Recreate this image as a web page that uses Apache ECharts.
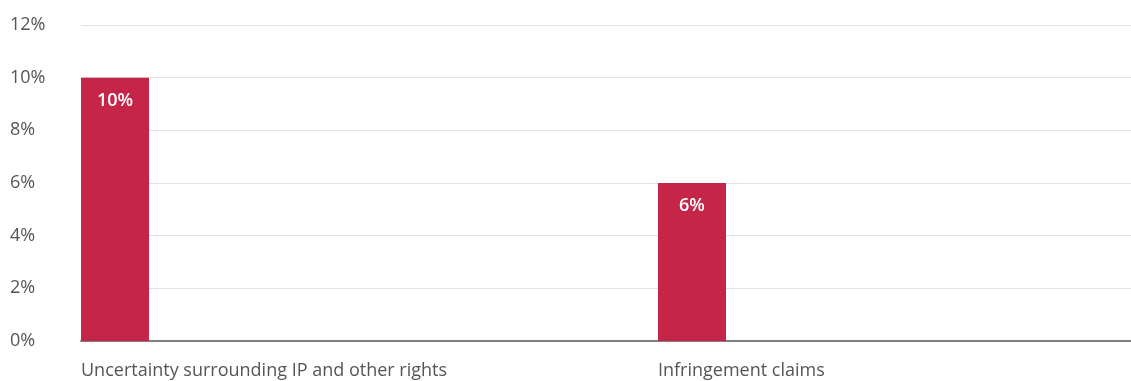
<!DOCTYPE html>
<html>
<head>
<meta charset="utf-8">
<style>
  html, body { margin: 0; padding: 0; background: #ffffff; }
  #chart { width: 1131px; height: 381px; }
</style>
<script src="https://cdn.jsdelivr.net/npm/echarts@6/dist/echarts.min.js"></script>
</head>
<body>
<div id="chart"></div>
<script>
// Share of respondents citing each IP-related concern
const categories = ['Uncertainty surrounding IP and other rights', 'Infringement claims'];
const values = [10, 6];
const yTicks = [0, 2, 4, 6, 8, 10, 12];

const BAR_COLOR = '#c42548';
const BAR_WIDTH = 68;
const SLOT_WIDTH = 577;   // horizontal pitch between category slots, px
const FONT = '"Open Sans", "Noto Sans", sans-serif';

const GRID_LEFT = 81;
const GRID_RIGHT = 0;
const CHART_W = 1131;
// visible span of the slot axis, in slot units
const xSpan = (CHART_W - GRID_LEFT - GRID_RIGHT) / SLOT_WIDTH;

const chart = echarts.init(document.getElementById('chart'), null, { renderer: 'canvas' });

chart.setOption({
  animation: false,
  grid: { left: GRID_LEFT, right: GRID_RIGHT, top: 25, bottom: 40, containLabel: false },
  xAxis: {
    type: 'value',
    min: 0,
    max: xSpan,
    interval: 1,
    axisLine: { show: true, onZero: false, lineStyle: { color: '#7f7f7f', width: 2 } },
    axisTick: { show: false },
    axisLabel: {
      showMaxLabel: false,
      align: 'left',
      margin: 21,
      color: '#555555',
      fontFamily: FONT,
      fontSize: 18,
      formatter: v => (Number.isInteger(v) && categories[v] !== undefined) ? categories[v] : ''
    },
    splitLine: { show: false }
  },
  yAxis: {
    type: 'value',
    min: yTicks[0],
    max: yTicks[yTicks.length - 1],
    interval: yTicks[1] - yTicks[0],
    axisLine: { show: false },
    axisTick: { show: false },
    axisLabel: {
      align: 'left',
      verticalAlign: 'middle',
      padding: [0, 0, 16, 0],
      margin: 71,
      color: '#555555',
      fontFamily: FONT,
      fontSize: 18,
      formatter: v => v + '%'
    },
    splitLine: { show: true, lineStyle: { color: '#e2e2e2', width: 1 } }
  },
  series: [{
    type: 'custom',
    data: values.map((v, i) => [i, v]),
    encode: { x: 0, y: 1 },
    renderItem: function (params, api) {
      const idx = api.value(0);
      const v = api.value(1);
      const top = api.coord([idx, v]);
      const base = api.coord([idx, 0]);
      return {
        type: 'rect',
        shape: { x: top[0], y: top[1], width: BAR_WIDTH, height: base[1] - top[1] },
        style: { fill: BAR_COLOR },
        textContent: {
          style: {
            text: v + '%',
            fill: '#ffffff',
            fontFamily: FONT,
            fontSize: 18,
            fontWeight: 600
          }
        },
        textConfig: { position: 'insideTop', distance: 14 }
      };
    }
  }]
});
</script>
</body>
</html>
